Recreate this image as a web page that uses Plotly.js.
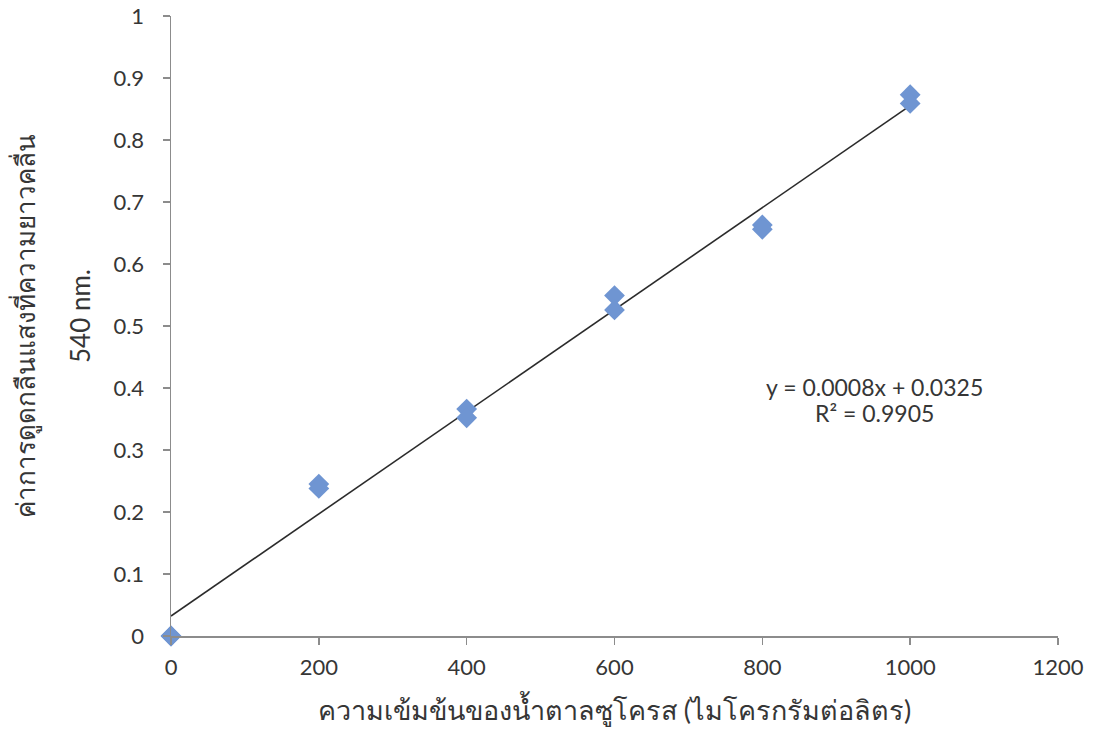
<!DOCTYPE html>
<html>
<head>
<meta charset="utf-8">
<script src="https://cdn.plot.ly/plotly-3.0.1.min.js"></script>
<style>
  html, body { margin: 0; padding: 0; background: #ffffff; }
  #chart { width: 1096px; height: 749px; }
</style>
</head>
<body>
<div id="chart"></div>
<script>
// Sucrose standard curve: absorbance at 540 nm vs concentration (duplicates)
const concentration = [0, 0, 200, 200, 400, 400, 600, 600, 800, 800, 1000, 1000];
const absorbance = [0, 0, 0.245, 0.238, 0.366, 0.352, 0.549, 0.526, 0.663, 0.656, 0.873, 0.859];

const xTicks = [0, 200, 400, 600, 800, 1000, 1200];
const yTicks = [0, 0.1, 0.2, 0.3, 0.4, 0.5, 0.6, 0.7, 0.8, 0.9, 1];
const yTickText = ['0', '0.1', '0.2', '0.3', '0.4', '0.5', '0.6', '0.7', '0.8', '0.9', '1'];

const xTitle = 'ความเข้มข้นของน้ำตาลซูโครส (ไมโครกรัมต่อลิตร)';
const yTitleLines = ['ค่าการดูดกลืนแสงที่ความยาวคลื่น', '540 nm.'];
const equationLines = ['y = 0.0008x + 0.0325', 'R² = 0.9905'];

// Least-squares linear fit through the measured points
function linearFit(xs, ys) {
  const n = xs.length;
  const mx = xs.reduce((a, b) => a + b, 0) / n;
  const my = ys.reduce((a, b) => a + b, 0) / n;
  let sxy = 0, sxx = 0;
  for (let i = 0; i < n; i++) {
    sxy += (xs[i] - mx) * (ys[i] - my);
    sxx += (xs[i] - mx) * (xs[i] - mx);
  }
  const slope = sxy / sxx;
  return { slope: slope, intercept: my - slope * mx };
}
const fit = linearFit(concentration, absorbance);
const fitX = [Math.min(...concentration), Math.max(...concentration)];
const fitY = fitX.map(x => fit.slope * x + fit.intercept);

const fontFamily = 'Lato, "Noto Sans", "Open Sans", sans-serif';
const textColor = '#363636';
const axisColor = '#8c8c8c';

const traces = [
  {
    x: fitX, y: fitY,
    type: 'scatter', mode: 'lines',
    line: { color: '#2b2b2b', width: 1.6 },
    hoverinfo: 'skip', showlegend: false
  },
  {
    x: concentration, y: absorbance,
    type: 'scatter', mode: 'markers',
    cliponaxis: false,
    marker: { symbol: 'diamond', size: 16, color: '#6f95d2', line: { width: 0 } },
    showlegend: false
  }
];

// plot area in page pixels
const M = { l: 171, r: 38, t: 16, b: 113 };
const plotW = 1096 - M.l - M.r;
const plotH = 749 - M.t - M.b;
const px = x => (x - M.l) / plotW;          // page x -> paper x
const py = y => (749 - M.b - y) / plotH;    // page y -> paper y

const annotations = [
  // y-axis title, two rotated lines
  {
    xref: 'paper', yref: 'paper', x: px(25), y: py(326),
    text: yTitleLines[0], textangle: -90, showarrow: false,
    xanchor: 'center', yanchor: 'middle',
    font: { family: fontFamily, size: 26, color: textColor }
  },
  {
    xref: 'paper', yref: 'paper', x: px(80), y: py(316),
    text: yTitleLines[1], textangle: -90, showarrow: false,
    xanchor: 'center', yanchor: 'middle',
    font: { family: fontFamily, size: 26, color: textColor }
  },
  // trendline equation
  {
    xref: 'paper', yref: 'paper', x: px(874), y: py(387),
    text: equationLines[0], showarrow: false,
    xanchor: 'center', yanchor: 'middle',
    font: { family: fontFamily, size: 23, color: textColor }
  },
  {
    xref: 'paper', yref: 'paper', x: px(874), y: py(413),
    text: equationLines[1], showarrow: false,
    xanchor: 'center', yanchor: 'middle',
    font: { family: fontFamily, size: 23, color: textColor }
  }
];

const layout = {
  width: 1096, height: 749,
  margin: M,
  paper_bgcolor: '#ffffff', plot_bgcolor: '#ffffff',
  font: { family: fontFamily, color: textColor, size: 22 },
  showlegend: false,
  xaxis: {
    range: [0, 1200],
    tickvals: xTicks,
    ticktext: xTicks.map(String),
    showgrid: false, zeroline: false,
    showline: true, linecolor: axisColor, linewidth: 1.5,
    ticks: 'outside', ticklen: 7, tickcolor: axisColor, tickwidth: 1.5,
    ticklabelstandoff: 4,
    tickfont: { family: fontFamily, size: 22, color: textColor },
    title: { text: xTitle, font: { family: fontFamily, size: 27, color: textColor }, standoff: 22 }
  },
  yaxis: {
    range: [0, 1],
    tickvals: yTicks,
    ticktext: yTickText,
    showgrid: false, zeroline: false,
    showline: true, linecolor: axisColor, linewidth: 1.5,
    ticks: 'outside', ticklen: 7, tickcolor: axisColor, tickwidth: 1.5,
    ticklabelstandoff: 14,
    tickfont: { family: fontFamily, size: 22, color: textColor }
  },
  annotations: annotations
};

Plotly.newPlot('chart', traces, layout, { displayModeBar: false, staticPlot: true });
</script>
</body>
</html>
